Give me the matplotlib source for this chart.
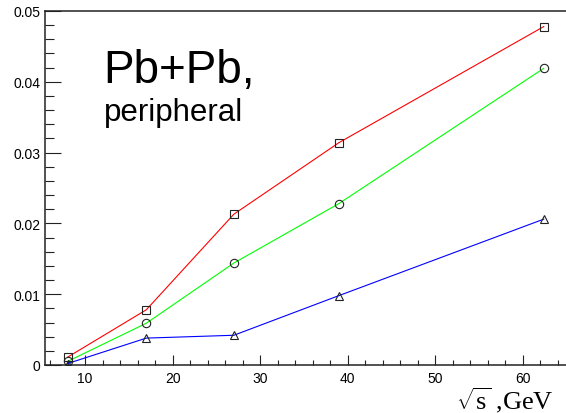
import matplotlib
matplotlib.use("Agg")
import matplotlib.pyplot as plt
from matplotlib.ticker import MultipleLocator, FixedLocator

# collision energies (GeV) and the three series
sqrt_s = [8.0, 17.0, 27.0, 39.0, 62.4]
red_vals = [0.0011, 0.0078, 0.0213, 0.0314, 0.0478]
green_vals = [0.0005, 0.0059, 0.0144, 0.0228, 0.0419]
blue_vals = [0.0002, 0.0038, 0.0042, 0.0098, 0.0206]

x_ticks = [10, 20, 30, 40, 50, 60]
y_ticks = [0, 0.01, 0.02, 0.03, 0.04, 0.05]
y_tick_labels = ["0", "0.01", "0.02", "0.03", "0.04", "0.05"]

plt.rcParams["font.family"] = ["Liberation Sans", "DejaVu Sans"]
plt.rcParams["mathtext.fontset"] = "custom"
plt.rcParams["mathtext.rm"] = "Liberation Serif"
plt.rcParams["mathtext.it"] = "Liberation Serif:italic"

W, H = 566, 414
fig = plt.figure(figsize=(W / 100, H / 100), dpi=100)
left, right, top, bottom = 44.5, 570.0, 12.0, 366.0
ax = fig.add_axes([left / W, 1 - bottom / H, (right - left) / W, (bottom - top) / H])

series = [(red_vals, "#ff0000", "s"), (green_vals, "#00ff00", "o"), (blue_vals, "#0000ff", "^")]
for vals, col, mk in series:
    ax.plot(sqrt_s, vals, color=col, lw=0.8, zorder=2)
    ax.plot(sqrt_s, vals, ls="none", marker=mk, ms=6, mfc="none", mec="#222222", mew=0.8, zorder=3)

ax.set_xlim(5.37, 65.4)
ax.set_ylim(0, 0.05)

ax.xaxis.set_major_locator(FixedLocator(x_ticks))
ax.xaxis.set_minor_locator(MultipleLocator(2))
ax.yaxis.set_major_locator(FixedLocator(y_ticks))
ax.set_yticklabels(y_tick_labels)
ax.yaxis.set_minor_locator(MultipleLocator(0.002))

ax.tick_params(axis="x", which="major", direction="in", length=7.2, width=0.8, labelsize=10, pad=4, color="#222222")
ax.tick_params(axis="x", which="minor", direction="in", length=3.6, width=0.8, color="#222222")
ax.tick_params(axis="y", which="major", direction="in", length=11.5, width=0.8, labelsize=10, pad=3, color="#222222")
ax.tick_params(axis="y", which="minor", direction="in", length=6.5, width=0.8, color="#222222")

for side in ["left", "bottom", "top"]:
    ax.spines[side].set_linewidth(1.1)
    ax.spines[side].set_color("#222222")
ax.spines["right"].set_visible(False)

fig.text(103 / W, 1 - 83 / H, "Pb+Pb,", fontsize=33, ha="left", va="baseline")
fig.text(104 / W, 1 - 121 / H, "peripheral", fontsize=22.5, ha="left", va="baseline")

fig.text(554 / W, 1 - 409 / H, r"$\sqrt{\mathrm{s}}$ ,GeV", fontsize=19,
         family="Liberation Serif", ha="right", va="baseline")

fig.savefig("out.png", dpi=100)
